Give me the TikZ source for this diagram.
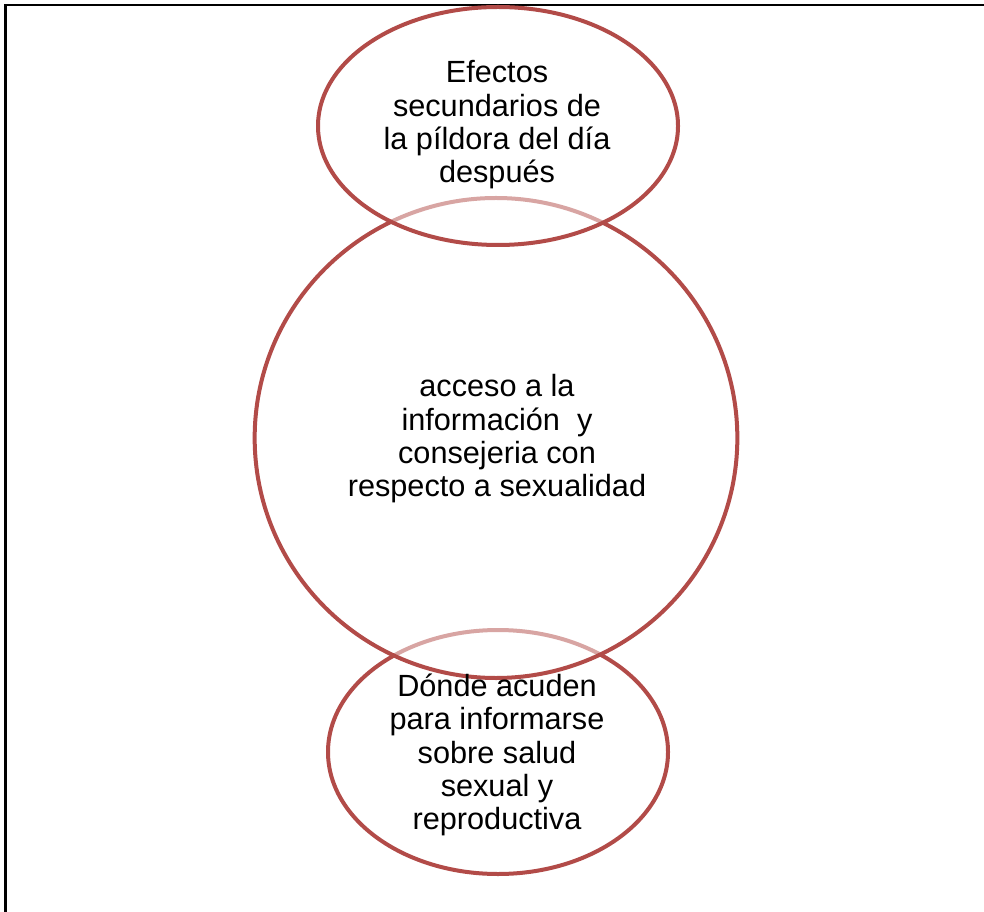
\documentclass[tikz,border=0pt]{standalone}
\usepackage{fontspec}
\setmainfont{Liberation Sans}
\usetikzlibrary{shapes.geometric}
\definecolor{ringred}{RGB}{178,75,72}
\tikzset{
  ring/.style={ellipse, draw=ringred, line width=3pt, fill=white, fill opacity=0.5, draw opacity=1, inner sep=0pt},
  ringtext/.style={align=center, font=\fontsize{23}{25}\selectfont, text=black, inner sep=0pt}
}
\begin{document}
\begin{tikzpicture}[x=0.75pt,y=-0.75pt]
\useasboundingbox (0,0) rectangle (984,912);
% frame (top and left only)
\draw[line width=1.6pt, black] (5.5,912) -- (5.5,5) -- (984,5);
% circles, bottom first
\node[ring, minimum width=255pt, minimum height=183pt] (bot) at (498,752) {};
\node[ring, minimum width=362pt, minimum height=360pt] (mid) at (496,438) {};
\node[ring, minimum width=270pt, minimum height=178.5pt] (top) at (498,126) {};
\node[ringtext] (toptext) at (497,125) {Efectos\\secundarios de\\la píldora del día\\después};
\node[ringtext] (midtext) at (497,439) {acceso a la\\información~ y\\consejeria con\\respecto a sexualidad};
\node[ringtext] (bottext) at (497,755) {Dónde acuden\\para informarse\\sobre salud\\sexual y\\reproductiva};
\end{tikzpicture}
\end{document}
